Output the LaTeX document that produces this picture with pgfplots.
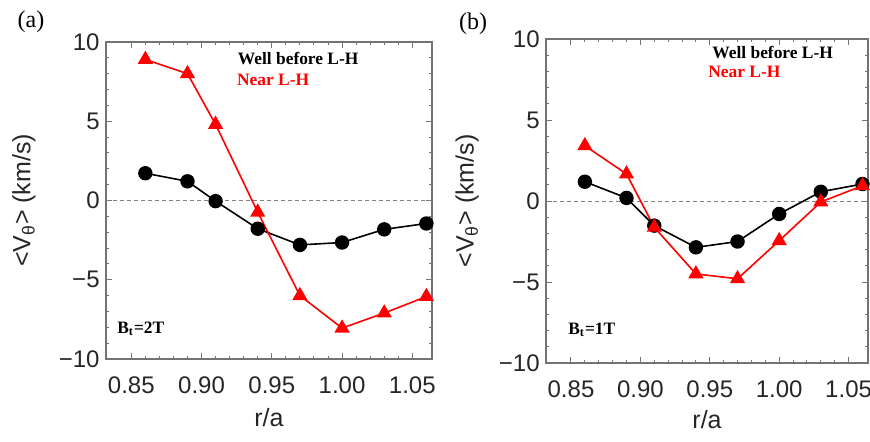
\documentclass[border=0pt]{standalone}
\usepackage{fontspec}
\setmainfont{Liberation Serif}
\newfontfamily\axisfont{Liberation Sans}
\usepackage{pgfplots}
\pgfplotsset{compat=1.18}

\pgfplotsset{
  vpanel/.style={
    scale only axis,
    xmin=0.832, xmax=1.064,
    ymin=-10, ymax=10,
    xtick={0.85,0.90,0.95,1.00,1.05},
    xticklabels={0.85,0.90,0.95,1.00,1.05},
    ytick={-10,-5,0,5,10},
    yticklabels={−10,−5,0,5,10},
    minor x tick num=4, minor y tick num=4,
    major tick length=2.8pt, minor tick length=1.5pt,
    tick align=inside,
    every tick/.style={black!55, line width=0.5pt},
    axis line style={black!55, line width=0.6pt},
    ticklabel style={font=\axisfont\fontsize{12}{14}\selectfont, text=black!85},
    xticklabel style={anchor=center, yshift=-13pt},
    yticklabel style={anchor=east, inner sep=0pt, xshift=-3pt},
    label style={font=\axisfont\fontsize{12.5}{15}\selectfont, text=black!85},
    xlabel={r/a},
    ylabel={<V\textsubscript{θ}> (km/s)},
    clip=false,
  },
  before/.style={black, line width=0.8pt, mark=*, mark size=3.2pt},
  near/.style={red, line width=0.8pt, mark=triangle*, mark size=3.6pt},
  zero/.style={black!50, dashed, dash pattern=on 2pt off 1.5pt, line width=0.5pt},
}
\newcommand\legfont{\bfseries\fontsize{8.7}{10}\selectfont}

\begin{document}
\begin{tikzpicture}
\path[use as bounding box] (-53pt,-41pt) rectangle (382pt,179.5pt);

% (a) Bt = 2T
\begin{axis}[vpanel, at={(0pt,0pt)}, anchor=south west,
    width=163pt, height=158.5pt,
    xlabel style={at={(axis description cs:0.5,-0.186)}, anchor=center},
    ylabel style={at={(axis description cs:-0.252,0.5)}, anchor=center}]
  \addplot[zero] coordinates {(0.832,0) (1.063,0)};
  \addplot[before] coordinates {(0.86,1.72) (0.89,1.21) (0.91,-0.04) (0.94,-1.78) (0.97,-2.8) (1.00,-2.65) (1.03,-1.82) (1.06,-1.45)};
  \addplot[near] coordinates {(0.86,8.9) (0.89,8.0) (0.91,4.8) (0.94,-0.74) (0.97,-6.0) (1.00,-8.05) (1.03,-7.1) (1.06,-6.06)};
  \node[anchor=west, inner sep=0pt, text=black] at (axis cs:0.9256,8.95) {\legfont Well before L-H};
  \node[anchor=west, inner sep=0pt, text=red] at (axis cs:0.925,7.63) {\legfont Near L-H};
  \node[anchor=west, inner sep=0pt] at (axis cs:0.8398,-8.09) {\legfont B\textsubscript{t}=2T};
\end{axis}

% (b) Bt = 1T
\begin{axis}[vpanel, at={(220pt,-2pt)}, anchor=south west,
    width=161pt, height=162pt,
    xlabel style={at={(axis description cs:0.5,-0.176)}, anchor=center},
    ylabel style={at={(axis description cs:-0.245,0.5)}, anchor=center}]
  \addplot[zero] coordinates {(0.832,0) (1.064,0)};
  \addplot[before] coordinates {(0.86,1.19) (0.89,0.19) (0.91,-1.52) (0.94,-2.86) (0.97,-2.5) (1.00,-0.8) (1.03,0.57) (1.06,1.05)};
  \addplot[near] coordinates {(0.86,3.41) (0.89,1.67) (0.91,-1.62) (0.94,-4.5) (0.97,-4.8) (1.00,-2.45) (1.03,-0.06) (1.06,0.94)};
  \node[anchor=west, inner sep=0pt, text=black] at (axis cs:0.9516,9.19) {\legfont Well before L-H};
  \node[anchor=west, inner sep=0pt, text=red] at (axis cs:0.9487,7.96) {\legfont Near L-H};
  \node[anchor=west, inner sep=0pt] at (axis cs:0.8478,-7.97) {\legfont B\textsubscript{t}=1T};
\end{axis}

\node[font=\fontsize{12}{14}\selectfont] at (-37.5pt,168.5pt) {(a)};
\node[font=\fontsize{12}{14}\selectfont] at (183.5pt,167.5pt) {(b)};
\end{tikzpicture}
\end{document}
